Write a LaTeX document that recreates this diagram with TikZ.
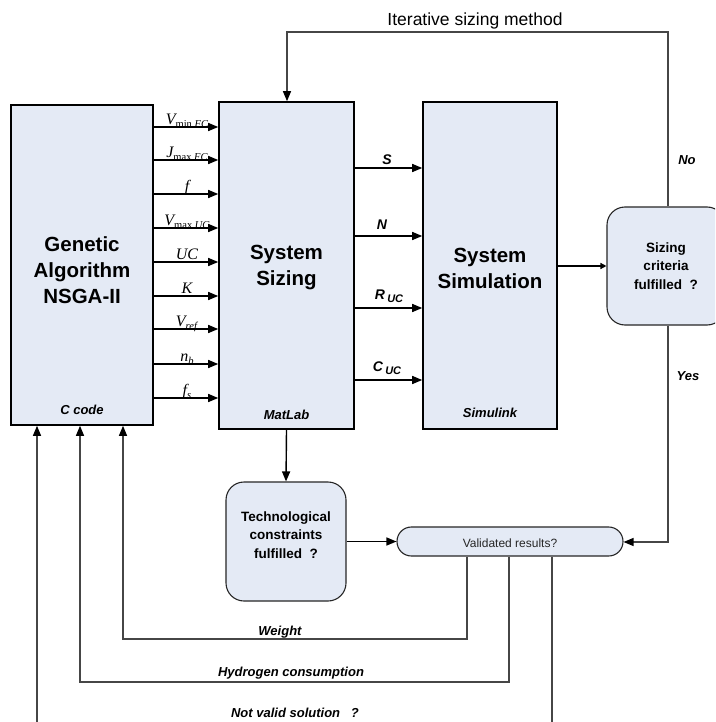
\documentclass[tikz,border=0pt]{standalone}
\usepackage{fontspec}
\setmainfont{Liberation Sans}
\newfontfamily\tnr{Liberation Serif}
\usetikzlibrary{arrows.meta}
\definecolor{boxfill}{RGB}{228,234,245}
\definecolor{linegray}{RGB}{70,70,70}
\newcommand{\fsz}[2]{\fontsize{#1}{#2}\selectfont}
\newcommand{\inlbl}[2]{{\tnr\fsz{16}{16}\itshape #1}\raisebox{-3pt}{\tnr\fsz{10.5}{10.5}#2}}
\newcommand{\outlbl}[2]{#1\,\raisebox{-3pt}{\fsz{11}{11}#2}}
\begin{document}
\begin{tikzpicture}[x=1pt,y=-1pt,
  blk/.style={draw=black, line width=1.6pt, fill=boxfill, inner sep=0pt},
  rbox/.style={draw=black!85, line width=1.1pt, fill=boxfill, rounded corners=18pt, inner sep=0pt},
  arr/.style={-{Triangle[length=10pt,width=8pt]}, line width=1.4pt, draw=black},
  smallarr/.style={-{Triangle[length=6pt,width=6pt]}, line width=1.4pt, draw=black},
  fb/.style={draw=linegray, line width=1.2pt},
  fbarr/.style={fb, -{Triangle[length=10pt,width=8pt,color=black]}},
  title/.style={font=\bfseries\fsz{20.5}{26}, align=center, inner sep=0pt},
  tag/.style={font=\bfseries\itshape\fsz{13}{15}, inner sep=0pt},
  qtext/.style={font=\bfseries\fsz{13.5}{18.5}, align=center, inner sep=0pt},
  inl/.style={anchor=base, inner sep=0pt},
  outl/.style={font=\bfseries\itshape\fsz{14}{14}, inner sep=0pt}]
\clip (0,0) rectangle (715,722);
\fill[white] (0,0) rectangle (715,722);

% main blocks
\node[blk, minimum width=142pt, minimum height=320pt] (ga) at (82,265) {};
\node[blk, minimum width=135pt, minimum height=327pt] (sz) at (286.5,265.5) {};
\node[blk, minimum width=134pt, minimum height=327pt] (sim) at (490,265.5) {};
\node[rbox, minimum width=118pt, minimum height=118pt] (crit) at (666,266) {};
\node[rbox, minimum width=120pt, minimum height=119pt] (tech) at (286,541.5) {};
\node[rbox, rounded corners=14.4pt, minimum width=226pt, minimum height=29pt] (val) at (510,541.5) {};

% titles
\node[title] (gat) at (82,270) {Genetic\\Algorithm\\NSGA-II};
\node[title] (szt) at (286.5,268) {System\\Sizing};
\node[title] (simt) at (490,268) {System\\Simulation};
\node[tag] (gab) at (82,410) {C code};
\node[tag] (szb) at (286.5,415) {MatLab};
\node[tag] (simb) at (490,413) {Simulink};
\node[qtext] (critt) at (666,266) {Sizing\\criteria\\fulfilled\ \ ?};
\node[qtext] (techt) at (286,535) {Technological\\constraints\\fulfilled\ \ ?};
\node[font=\fsz{12}{12}, text=black!85, inner sep=0pt] (valt) at (510,543) {Validated results?};

% inputs
\foreach \yy/\lab [count=\i] in {127/{\inlbl{V}{min \textit{FC}}},160/{\inlbl{J}{max \textit{FC}}},194/{\inlbl{f}{}},228/{\inlbl{V}{max \textit{UC}}},262/{\inlbl{UC}{}},296/{\inlbl{K}{}},329/{\inlbl{V}{\textit{ref}}},364/{\inlbl{n}{\textit{b}}},398/{\inlbl{f}{\textit{s}}}}{
  \draw[arr] (ga.east |- 0,\yy) -- (sz.west |- 0,\yy);
  \node[inl] (in\i) at (187,\yy-2.5) {\lab};
}

% outputs
\foreach \yy in {168,236,308,380}{
  \draw[arr] (sz.east |- 0,\yy) -- (sim.west |- 0,\yy);
}
\node[outl] (oS) at (387,160) {S};
\node[outl] (oN) at (382,225) {N};
\node[outl] (oR) at (389,296) {\outlbl{R}{UC}};
\node[outl] (oC) at (387,368) {\outlbl{C}{UC}};

% simulation -> criteria
\draw[smallarr] (sim.east |- 0,266) -- (crit.west |- 0,266);

% iterative loop
\coordinate (lr) at (668,32);
\coordinate (ll) at (287,32);
\draw[fbarr] (crit.north -| lr) -- (lr) -- (ll) -- (ll |- sz.north);
\node[font=\fsz{17.5}{17.5}, inner sep=0pt] (itl) at (475,21) {Iterative sizing method};
\node[tag] (nol) at (687,160) {No};

% yes branch
\coordinate (yb) at (668,542);
\draw[fbarr] (crit.south -| yb) -- (yb) -- (val.east |- yb);
\node[tag] (yesl) at (688,376) {Yes};

% sizing -> technological -> validated
\draw[arr] (sz.south) -- (tech.north);
\draw[arr] (tech.east) -- (val.west);

% feedback to GA
\coordinate (w1) at (467,639);
\coordinate (w2) at (123,639);
\draw[fbarr] (val.south -| w1) -- (w1) -- (w2) -- (w2 |- ga.south);
\node[tag] (wl) at (280,632) {Weight};

\coordinate (h1) at (509,682);
\coordinate (h2) at (80,682);
\draw[fbarr] (val.south -| h1) -- (h1) -- (h2) -- (h2 |- ga.south);
\node[tag] (hl) at (291,673) {Hydrogen consumption};

\coordinate (n1) at (552,730);
\coordinate (n2) at (37,730);
\draw[fb] (val.south -| n1) -- (n1);
\draw[fbarr] (n2) -- (n2 |- ga.south);
\node[tag] (nl) at (295,713) {Not valid solution\ \ \ ?};
\end{tikzpicture}
\end{document}
